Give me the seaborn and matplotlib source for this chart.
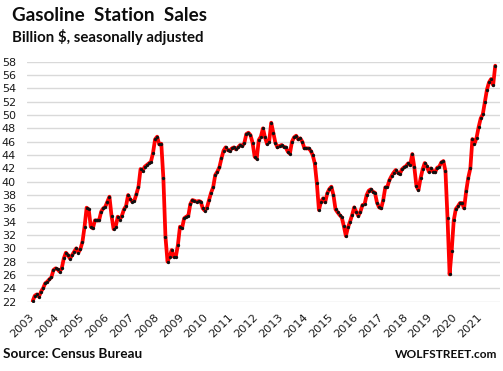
import matplotlib
matplotlib.use('Agg')
import matplotlib.pyplot as plt
import seaborn as sns
import numpy as np
import pandas as pd

# Monthly gasoline station sales, billion $, SA (Jul 2003 - Feb 2022)
s2003 = [22.1, 22.9, 23.1, 22.75, 23.5, 24.0]  # Jul-Dec
s2004 = [24.75, 25.0, 25.35, 25.65, 26.75, 27.0, 26.85, 26.5, 27.0, 28.5, 29.35, 29.0]
s2005 = [28.45, 29.0, 29.5, 30.0, 29.35, 29.9, 31.0, 33.25, 36.1, 35.85, 33.25, 33.0]
s2006 = [34.2, 34.2, 34.2, 35.5, 36.0, 36.25, 37.0, 37.75, 34.9, 32.9, 33.25, 34.75]
s2007 = [34.3, 34.9, 35.85, 36.35, 38.0, 37.35, 37.0, 37.15, 38.15, 39.25, 41.9, 41.6]
s2008 = [42.25, 42.5, 42.75, 43.0, 44.3, 46.35, 46.75, 45.6, 45.7, 40.5, 31.75, 28.0]
s2009 = [28.75, 29.75, 28.75, 28.75, 30.5, 33.25, 33.0, 34.5, 34.75, 34.85, 36.65, 37.25]
s2010 = [37.15, 37.0, 37.1, 37.0, 36.0, 35.65, 36.1, 37.25, 38.35, 39.15, 41.0, 41.5]
s2011 = [42.15, 43.5, 44.65, 45.15, 44.75, 44.6, 45.0, 45.15, 44.85, 45.15, 45.5, 45.35]
s2012 = [45.75, 47.15, 47.35, 47.0, 45.85, 43.75, 43.45, 46.25, 46.75, 48.0, 46.65, 45.65]
s2013 = [46.0, 48.85, 47.35, 45.85, 45.15, 45.35, 45.5, 45.25, 45.15, 44.5, 44.2, 46.0]
s2014 = [46.65, 46.9, 46.35, 46.5, 46.0, 45.0, 45.0, 45.0, 44.65, 44.0, 42.75, 39.75]
s2015 = [35.75, 37.0, 37.5, 36.9, 38.25, 38.9, 39.25, 38.0, 35.85, 35.4, 35.0, 34.65]
s2016 = [33.35, 31.85, 33.15, 34.0, 35.0, 36.15, 35.5, 34.85, 35.5, 36.5, 36.6, 38.0]
s2017 = [38.65, 38.85, 38.5, 38.35, 36.85, 36.15, 36.0, 37.25, 39.15, 39.25, 40.25, 40.85]
s2018 = [41.35, 41.75, 41.35, 41.15, 41.85, 42.15, 42.35, 42.75, 42.5, 44.15, 42.15, 39.35]
s2019 = [38.75, 40.5, 41.85, 42.8, 42.3, 41.5, 42.0, 41.5, 41.4, 42.1, 42.25, 42.9]
s2020 = [43.1, 41.6, 34.5, 26.1, 29.6, 34.2, 35.9, 36.3, 36.8, 36.8, 36.0, 38.6]
s2021 = [40.6, 42.0, 46.4, 45.7, 46.6, 48.2, 49.5, 50.1, 52.0, 53.8, 54.9, 55.4]
s2022 = [54.5, 57.4]  # Jan-Feb

year_labels = [str(y) for y in range(2003, 2022)]
y_ticks = list(range(22, 60, 2))

sales = (s2003 + s2004 + s2005 + s2006 + s2007 + s2008 + s2009 + s2010 + s2011 +
         s2012 + s2013 + s2014 + s2015 + s2016 + s2017 + s2018 + s2019 + s2020 +
         s2021 + s2022)
df = pd.DataFrame({'month': np.arange(len(sales)), 'sales': sales})

sns.set_style('white')
plt.rcParams['font.family'] = ['DejaVu Sans']

W, H = 503, 371
fig = plt.figure(figsize=(W / 100, H / 100), dpi=100)
ax = fig.add_axes([27 / W, 1 - 301.7 / H, 473 / W, 240 / H])

sns.lineplot(data=df, x='month', y='sales', ax=ax, color='#ff0000', linewidth=2.7,
             marker='o', markersize=2.4, markerfacecolor='#111111',
             markeredgecolor='#111111', markeredgewidth=0)

ax.set_xlim(-2.75, 225.3)
ax.set_ylim(22, 58)
ax.set_yticks(y_ticks)
ax.set_yticklabels([str(v) for v in y_ticks])
ax.set_xticks(np.arange(0, 12 * len(year_labels), 12))
ax.set_xticklabels(year_labels)
ax.tick_params(axis='y', length=0, pad=8, labelsize=8, labelcolor='#1a1a1a')
ax.tick_params(axis='x', length=0, pad=10, labelsize=8.2, labelcolor='#1a1a1a')
for lab in ax.get_xticklabels():
    lab.set_rotation(45)
    lab.set_ha('right')
    lab.set_va('center')
    lab.set_rotation_mode('anchor')
ax.set_xlabel('')
ax.set_ylabel('')
ax.yaxis.grid(True, color='#d9d9d9', linewidth=1)
ax.xaxis.grid(False)
ax.set_axisbelow(True)
for sp in ax.spines.values():
    sp.set_visible(False)

fig.text(12 / W, 1 - 21 / H, 'Gasoline  Station  Sales', fontsize=13.6, fontweight='bold',
         family='Lato', color='#0d0d0d', ha='left', va='baseline')
fig.text(12.5 / W, 1 - 41.7 / H, 'Billion $, seasonally adjusted', fontsize=10.8, fontweight='bold',
         family='Lato', color='#0d0d0d', ha='left', va='baseline')
fig.text(3 / W, 1 - 358 / H, 'Source: Census Bureau', fontsize=9.8, fontweight='bold',
         family='Lato', color='#0d0d0d', ha='left', va='baseline')
fig.text(497 / W, 1 - 358 / H, 'WOLFSTREET.com', fontsize=8.6, fontweight='bold',
         family='Lato', color='#0d0d0d', ha='right', va='baseline')

fig.savefig('out.png', dpi=100)
